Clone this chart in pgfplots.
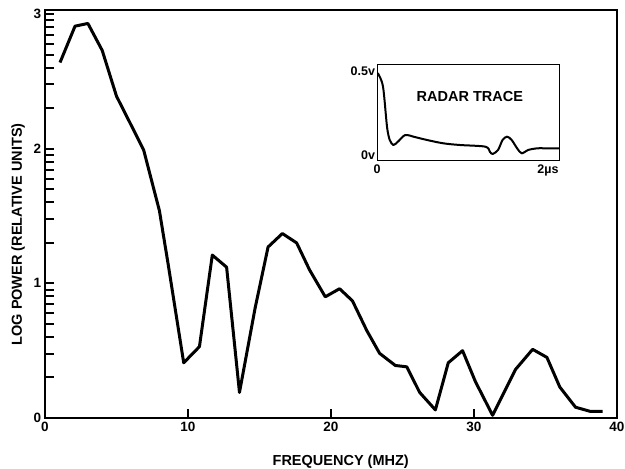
\documentclass[border=0pt]{standalone}
\usepackage{fontspec}
\setmainfont{Liberation Sans}
\usepackage{pgfplots}
\pgfplotsset{compat=1.18}

\begin{document}
\begin{tikzpicture}
\useasboundingbox (0pt,0pt) rectangle (625pt,469pt);
% main spectrum
\begin{axis}[
  at={(45pt,51pt)}, anchor=south west,
  scale only axis, width=572pt, height=408pt,
  xmin=0, xmax=40, ymin=0, ymax=3.03,
  xtick={0,10,20,30,40}, ytick={0,1,2,3},
  % log-decade minor ticks on the power axis
  minor ytick={0.30103,0.47712,0.60206,0.69897,0.77815,0.84510,0.90309,0.95424,
               1.30103,1.47712,1.60206,1.69897,1.77815,1.84510,1.90309,1.95424,
               2.30103,2.47712,2.60206,2.69897,2.77815,2.84510,2.90309,2.95424},
  xtick pos=left, ytick pos=left, tick align=inside,
  major tick length=9pt, minor tick length=9pt,
  line width=1.2pt,
  xtick style={draw=black, line width=2pt},
  ytick style={draw=black, line width=2pt},
  minor tick style={draw=black, line width=2pt},
  /pgf/number format/assume math mode=true,
  tick label style={font=\fontsize{13.5}{15}\selectfont\bfseries},
  xlabel={FREQUENCY (MHZ)},
  ylabel={LOG POWER (RELATIVE UNITS)},
  label style={font=\fontsize{14.5}{16}\selectfont\bfseries},
  xlabel style={at={(axis description cs:0.517,-0.108)}, anchor=center},
  ylabel style={at={(axis description cs:-0.047,0.45)}, anchor=center, rotate=0},
]
\addplot[black, line width=3pt, line join=round, mark=none] coordinates {
(1.05,2.64)(2.1,2.91)(3.0,2.93)(4.0,2.73)(5.0,2.39)(6.0,2.18)(6.9,1.99)
(8.0,1.54)(8.6,1.15)(9.7,0.41)(10.8,0.53)(11.7,1.21)(12.7,1.12)(13.6,0.19)
(14.7,0.82)(15.6,1.27)(16.6,1.37)(17.6,1.30)(18.5,1.10)(19.6,0.90)(20.6,0.96)
(21.5,0.87)(22.5,0.65)(23.4,0.48)(24.5,0.39)(25.3,0.38)(26.2,0.19)(27.3,0.06)
(28.2,0.41)(29.2,0.50)(30.1,0.27)(31.3,0.02)(32.9,0.36)(34.1,0.51)(35.1,0.45)
(36.0,0.23)(37.1,0.08)(38.1,0.05)(39.0,0.05)
};
\end{axis}
% inset: radar trace
\begin{axis}[
  at={(377pt,308pt)}, anchor=south west,
  scale only axis, width=182pt, height=96pt,
  xmin=0, xmax=2, ymin=-0.036, ymax=0.54,
  xtick={0}, xticklabels={0},
  extra x ticks={2}, extra x tick labels={2µs},
  extra x tick style={xticklabel style={xshift=-11pt}},
  ytick={0,0.5}, yticklabels={0v,0.5v},
  major tick length=0pt,
  line width=1pt,
  tick label style={font=\fontsize{12.5}{14}\selectfont\bfseries},
  yticklabel style={inner sep=1.5pt},
]
\addplot[black, line width=2pt, line join=round, mark=none, smooth] coordinates {
(0,0.48)(0.01,0.49)(0.066,0.41)(0.11,0.17)(0.14,0.09)(0.18,0.06)(0.23,0.08)
(0.31,0.12)(0.40,0.11)(0.55,0.09)(0.73,0.07)(0.91,0.06)(1.19,0.05)(1.24,0.02)
(1.27,0.006)(1.33,0.03)(1.38,0.09)(1.43,0.11)(1.48,0.09)(1.54,0.04)(1.59,0.01)
(1.66,0.03)(1.76,0.04)(1.87,0.04)(2.0,0.04)
};
\node[font=\fontsize{14.5}{16}\selectfont\bfseries] at (axis cs:1.02,0.35) {RADAR TRACE};
\end{axis}
\end{tikzpicture}
\end{document}
